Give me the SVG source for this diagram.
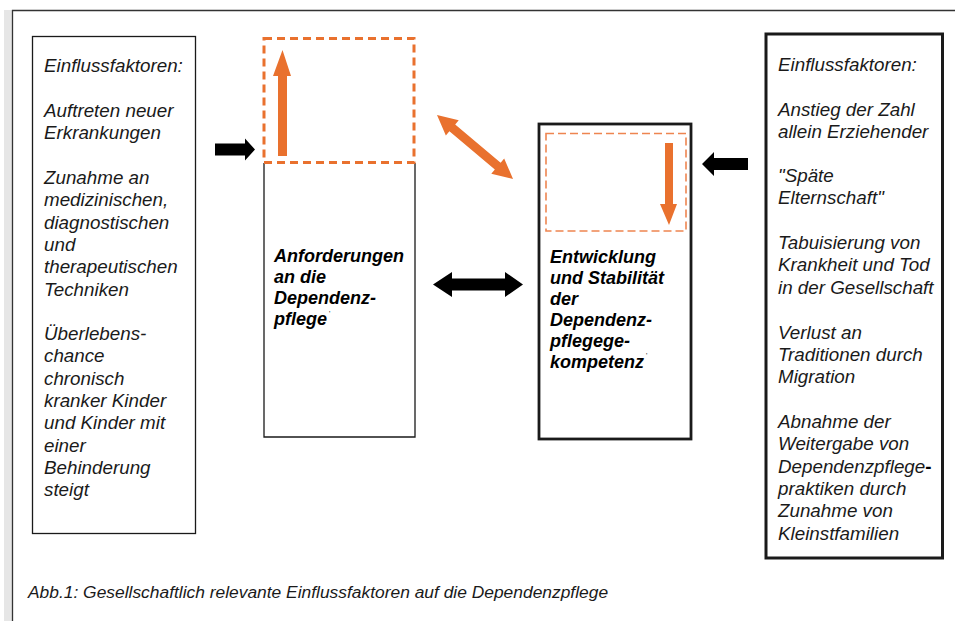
<svg xmlns="http://www.w3.org/2000/svg" width="955" height="621" viewBox="0 0 955 621">
<style>
  .it { font-family: "Liberation Sans", Arial, sans-serif; font-style: italic; font-size: 18.8px; fill: #1a1a1a; }
  .bi { font-family: "Liberation Sans", Arial, sans-serif; font-style: italic; font-weight: bold; font-size: 18px; fill: #000; }
  .cap { font-family: "Liberation Sans", Arial, sans-serif; font-style: italic; font-size: 17.4px; fill: #1a1a1a; }
  .tick { font-family: "Liberation Sans", Arial, sans-serif; font-size: 7px; fill: #000; }
  .box { fill: #fff; stroke: #1a1a1a; }
  .orange { fill: #E9712E; }
  .blk { fill: #000; }
  .dash1 { fill: none; stroke: #E9712E; stroke-width: 3; stroke-dasharray: 8 5; }
  .dash2 { fill: none; stroke: #EE8550; stroke-width: 1.6; stroke-dasharray: 8 4; }
</style>
<rect width="955" height="621" fill="#fff"/>
<g id="frame">
  <rect x="4" y="10" width="8" height="611" fill="#e6e6e6"/>
  <path d="M12.5 621 V10.5 H955" fill="none" stroke="#333" stroke-width="1.3"/>
</g>
<g id="node-left">
  <rect class="box" x="32.5" y="36.5" width="163" height="497" stroke-width="1.3"/>
  <text class="it" x="44" y="72">Einflussfaktoren:</text>
  <text class="it" x="44" y="117">Auftreten neuer</text>
  <text class="it" x="44" y="139.3">Erkrankungen</text>
  <text class="it" x="44" y="184">Zunahme an</text>
  <text class="it" x="44" y="206.3">medizinischen,</text>
  <text class="it" x="44" y="228.6">diagnostischen</text>
  <text class="it" x="44" y="250.9">und</text>
  <text class="it" x="44" y="273.2">therapeutischen</text>
  <text class="it" x="44" y="295.5">Techniken</text>
  <text class="it" x="44" y="340">Überlebens-</text>
  <text class="it" x="44" y="362.3">chance</text>
  <text class="it" x="44" y="384.6">chronisch</text>
  <text class="it" x="44" y="406.9">kranker Kinder</text>
  <text class="it" x="44" y="429.2">und Kinder mit</text>
  <text class="it" x="44" y="451.5">einer</text>
  <text class="it" x="44" y="473.8">Behinderung</text>
  <text class="it" x="44" y="496.1">steigt</text>
</g>
<g id="node-anforderungen">
  <path d="M264 163 V437 H415 V163" fill="none" stroke="#1a1a1a" stroke-width="1.3"/>
  <rect class="dash1" x="264" y="38.5" width="150" height="124"/>
  <text class="bi" x="274" y="262">Anforderungen</text>
  <text class="bi" x="274" y="283">an die</text>
  <text class="bi" x="274" y="304">Dependenz-</text>
  <text class="bi" x="274" y="325">pflege</text>
  <text class="tick" x="329" y="316">'</text>
</g>
<g id="node-entwicklung">
  <rect class="box" x="539" y="124" width="152" height="315" stroke-width="2.8" stroke="#000"/>
  <rect class="dash2" x="546" y="133.5" width="140" height="97.5"/>
  <text class="bi" x="550" y="263">Entwicklung</text>
  <text class="bi" x="550" y="284">und Stabilität</text>
  <text class="bi" x="550" y="305">der</text>
  <text class="bi" x="550" y="326">Dependenz-</text>
  <text class="bi" x="550" y="347">pflegege-</text>
  <text class="bi" x="550" y="368">kompetenz</text>
  <text class="tick" x="646" y="358">'</text>
</g>
<g id="node-right">
  <rect class="box" x="766" y="34" width="176.5" height="524" stroke-width="3" stroke="#000"/>
  <text class="it" x="778" y="71">Einflussfaktoren:</text>
  <text class="it" x="778" y="115.5">Anstieg der Zahl</text>
  <text class="it" x="778" y="137.8">allein Erziehender</text>
  <text class="it" x="778" y="182">"Späte</text>
  <text class="it" x="778" y="204.3">Elternschaft"</text>
  <text class="it" x="778" y="249">Tabuisierung von</text>
  <text class="it" x="778" y="271.3">Krankheit und Tod</text>
  <text class="it" x="778" y="293.6">in der Gesellschaft</text>
  <text class="it" x="778" y="338.5">Verlust an</text>
  <text class="it" x="778" y="360.8">Traditionen durch</text>
  <text class="it" x="778" y="383.1">Migration</text>
  <text class="it" x="778" y="428">Abnahme der</text>
  <text class="it" x="778" y="450.3">Weitergabe von</text>
  <text class="it" x="778" y="472.6">Dependenzpflege<tspan font-weight="bold" font-style="normal" fill="#000">-</tspan></text>
  <text class="it" x="778" y="494.9">praktiken durch</text>
  <text class="it" x="778" y="517.2">Zunahme von</text>
  <text class="it" x="778" y="539.5">Kleinstfamilien</text>
</g>
<g id="connectors">
  <polygon class="blk" points="215,143.5 245,143.5 245,138.5 255,149.5 245,160.5 245,155.5 215,155.5"/>
  <polygon class="blk" points="748,158 714,158 714,152 702,164 714,176 714,170 748,170"/>
  <polygon class="blk" points="433,284.5 452,272 452,278.5 505,278.5 505,272 523,284.5 505,297 505,290.5 452,290.5 452,297"/>
  <polygon class="orange" points="278,156 278,76 273,76 282.5,50 291,76 287,76 287,156"/>
  <polygon class="orange" points="665,143 673,143 673,204 677,204 669,225 660,204 665,204"/>
  <polygon class="orange" transform="translate(437,115) rotate(40.1)" points="0,0 20,-10 20,-4.5 79.4,-4.5 79.4,-10 99.4,0 79.4,10 79.4,4.5 20,4.5 20,10"/>
</g>
<g id="caption">
  <text class="cap" x="28" y="598">Abb.1: Gesellschaftlich relevante Einflussfaktoren auf die Dependenzpflege</text>
</g>
</svg>
